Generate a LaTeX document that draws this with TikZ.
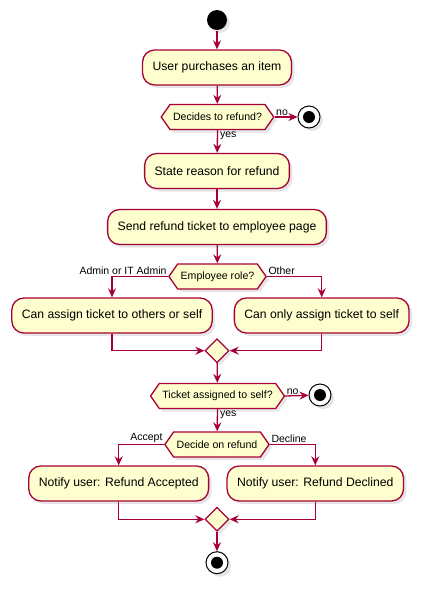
\documentclass[tikz,border=0pt]{standalone}
\usepackage{fontspec}
\setmainfont{Liberation Sans}
\usetikzlibrary{arrows.meta,shapes.symbols,shapes.geometric,shadows}
\definecolor{umlred}{HTML}{A80036}
\definecolor{umlfill}{HTML}{FEFECE}
\begin{document}
\begin{tikzpicture}[x=1pt, y=-1pt, line width=1.3pt,
		>={Stealth[length=9pt,width=8pt,inset=3pt]},
		shade/.style = {drop shadow={shadow xshift=3pt, shadow yshift=-3pt, opacity=0.2}},
		act/.style = {draw=umlred, fill=umlfill, rounded corners=12pt, minimum height=35pt, inner xsep=10pt, font=\fontsize{12.2}{14}\selectfont, shade},
		cond/.style = {draw=umlred, fill=umlfill, shape=signal, signal to=east and west, signal pointer angle=110, minimum height=25pt, inner xsep=3pt, inner ysep=0pt, font=\fontsize{10.6}{13}\selectfont, shade},
		merge/.style = {draw=umlred, fill=umlfill, diamond, minimum size=24pt, inner sep=0pt, shade},
		start/.style = {circle, fill=black, minimum size=20pt, inner sep=0pt, shade},
		stop/.style = {circle, draw=black, line width=1pt, fill=white, minimum size=22pt, inner sep=0pt, shade, path picture={\fill[black] (path picture bounding box.center) circle (6pt);}},
		flow/.style = {->, draw=umlred},
		lbl/.style = {font=\fontsize{10.5}{13}\selectfont, inner sep=1pt}]

	\useasboundingbox (0,0) rectangle (427,590);

	\node[start] (S) at (217,20) {};
	\node[act] (A1) at (217,67.5) {User purchases an item};
	\node[cond] (C1) at (217.5,117) {Decides to refund?};
	\node[stop] (E1) at (309,117) {};
	\node[act] (A2) at (217,171) {State reason for refund};
	\node[act] (A3) at (217,227) {Send refund ticket to employee page};
	\node[cond] (C2) at (217.5,276.5) {Employee role?};
	\node[act] (A4) at (112,315.5) {Can assign ticket to others or self};
	\node[act] (A5) at (321.7,315.5) {Can only assign ticket to self};
	\node[merge] (M1) at (217,350.7) {};
	\node[cond] (C3) at (217.5,396) {Ticket assigned to self?};
	\node[stop] (E2) at (320,395) {};
	\node[cond] (C4) at (217,444.5) {Decide on refund};
	\node[act] (A6) at (118.7,483.5) {Notify user: Refund Accepted};
	\node[act] (A7) at (315.3,483.5) {Notify user: Refund Declined};
	\node[merge] (M2) at (217,519.3) {};
	\node[stop] (E3) at (217,562.7) {};

	\draw[flow] (S) -- (A1);
	\draw[flow] (A1) -- (C1);
	\draw[flow] (C1.east) -- node[lbl, pos=0, anchor=south west] {no} (E1);
	\draw[flow] (C1.south) -- node[lbl, pos=0, anchor=north west, xshift=1pt] {yes} (A2);
	\draw[flow] (A2) -- (A3);
	\draw[flow] (A3) -- (C2);
	\draw[flow] (C2.west) node[lbl, anchor=south east] {Admin or IT Admin} -| (A4.north);
	\draw[flow] (C2.east) node[lbl, anchor=south west] {Other} -| (A5.north);
	\draw[flow] (A4.south) |- (M1.west);
	\draw[flow] (A5.south) |- (M1.east);
	\draw[flow] (M1) -- (C3);
	\draw[flow] (C3.east) -- node[lbl, pos=0, anchor=south west] {no} (E2);
	\draw[flow] (C3.south) -- node[lbl, pos=0, anchor=north west, xshift=1pt] {yes} (C4);
	\draw[flow] (C4.west) node[lbl, anchor=south east] {Accept} -| (A6.north);
	\draw[flow] (C4.east) node[lbl, anchor=south west] {Decline} -| (A7.north);
	\draw[flow] (A6.south) |- (M2.west);
	\draw[flow] (A7.south) |- (M2.east);
	\draw[flow] (M2) -- (E3);
\end{tikzpicture}
\end{document}
